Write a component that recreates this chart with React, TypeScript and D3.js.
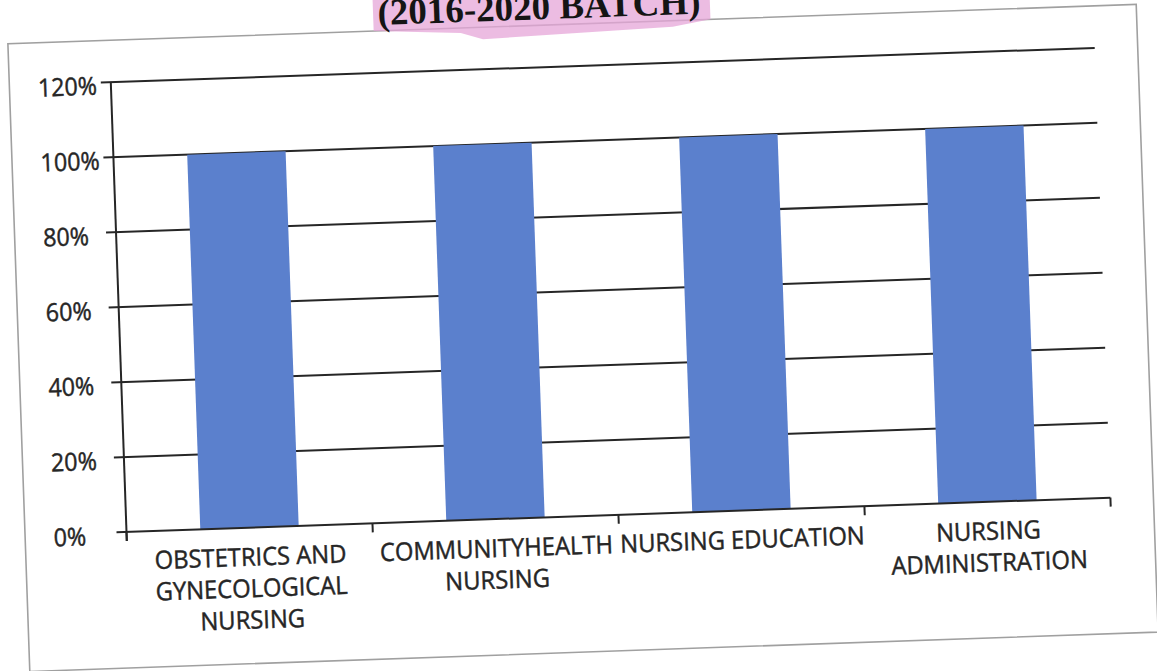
import React from 'react';
import * as d3 from 'd3';

const categoryKeys = [
  'OBSTETRICS AND GYNECOLOGICAL NURSING',
  'COMMUNITYHEALTH NURSING',
  'NURSING EDUCATION',
  'NURSING ADMINISTRATION',
];
const categoryLines = [
  ['OBSTETRICS AND', 'GYNECOLOGICAL', 'NURSING'],
  ['COMMUNITYHEALTH', 'NURSING'],
  ['NURSING EDUCATION'],
  ['NURSING', 'ADMINISTRATION'],
];
const values = [1.0, 1.0, 1.0, 1.0];
const yTicks = [0, 0.2, 0.4, 0.6, 0.8, 1.0, 1.2];
const yTickLabels = ['0%', '20%', '40%', '60%', '80%', '100%', '120%'];
const title = '(2016-2020 BATCH)';

const W = 1157;
const H = 671;
const left = 126.5;
const right = 1111;
const top = 82;
const bottom = 532;
const labelFont = "'Open Sans', sans-serif";
const ink = '#262626';

export default function App() {
  const x = d3
    .scaleBand<string>()
    .domain(categoryKeys)
    .range([left, right])
    .paddingInner(0.6)
    .paddingOuter(0.3);
  const y = d3.scaleLinear().domain([0, 1.2]).range([bottom, top]);
  const step = x.step();
  const boundaries = d3.range(categoryKeys.length + 1).map((i) => left + i * step);

  return (
    <svg
      width={W}
      height={H}
      style={{ position: 'absolute', left: 0, top: 0, background: '#fff' }}
    >
      <rect x={0} y={0} width={W} height={H} fill="#fff" />
      <g transform={`rotate(-2 ${left} ${bottom})`}>
        <rect x={25} y={40} width={1129} height={628} fill="none" stroke="#a0a0a0" strokeWidth={1.6} />
        <path
          d="M391,-30 L728,-30 L728,40 L690,46 L500,52 L478,45 L391,40 Z"
          fill="#e6a6d8"
          opacity={0.75}
        />
        <text
          x={557}
          y={34}
          textAnchor="middle"
          fontFamily="'Liberation Serif', serif"
          fontWeight="bold"
          fontSize={37}
          fill="#151515"
        >
          {title}
        </text>

        {yTicks
          .filter((t) => t > 0)
          .map((t) => (
            <line key={t} x1={left - 10} x2={right} y1={y(t)} y2={y(t)} stroke={ink} strokeWidth={2} />
          ))}

        {categoryKeys.map((c, i) => (
          <rect
            key={c}
            x={x(c)}
            y={y(values[i])}
            width={x.bandwidth()}
            height={y(0) - y(values[i])}
            fill="#5b80cd"
          />
        ))}

        <line x1={left} x2={left} y1={y(1.2)} y2={bottom + 9} stroke={ink} strokeWidth={2} />
        <line x1={left - 10} x2={right} y1={bottom} y2={bottom} stroke={ink} strokeWidth={2} />
        {boundaries.map((bx, i) => (
          <line key={i} x1={bx} x2={bx} y1={bottom} y2={bottom + 9} stroke={ink} strokeWidth={2} />
        ))}

        {yTicks.map((t, i) => (
          <g key={t} transform={`translate(53.5 ${y(t) + 2}) scale(0.93 1)`}>
            <text
              x={0}
              y={0}
              dominantBaseline="central"
              fontFamily={labelFont}
              fontSize={25}
              fill={ink}
              stroke={ink}
              strokeWidth={0.45}
            >
              {yTickLabels[i]}
            </text>
          </g>
        ))}

        {categoryKeys.map((c, i) => {
          const cx = (x(c) as number) + x.bandwidth() / 2;
          return (
            <g key={c} transform={`translate(${cx} 570) scale(0.95 1)`}>
              <text
                x={0}
                y={0}
                textAnchor="middle"
                fontFamily={labelFont}
                fontSize={25}
                fill={ink}
                stroke={ink}
                strokeWidth={0.45}
              >
                {categoryLines[i].map((ln, j) => (
                  <tspan key={j} x={0} dy={j === 0 ? 0 : 31.5}>
                    {ln}
                  </tspan>
                ))}
              </text>
            </g>
          );
        })}
      </g>
    </svg>
  );
}
